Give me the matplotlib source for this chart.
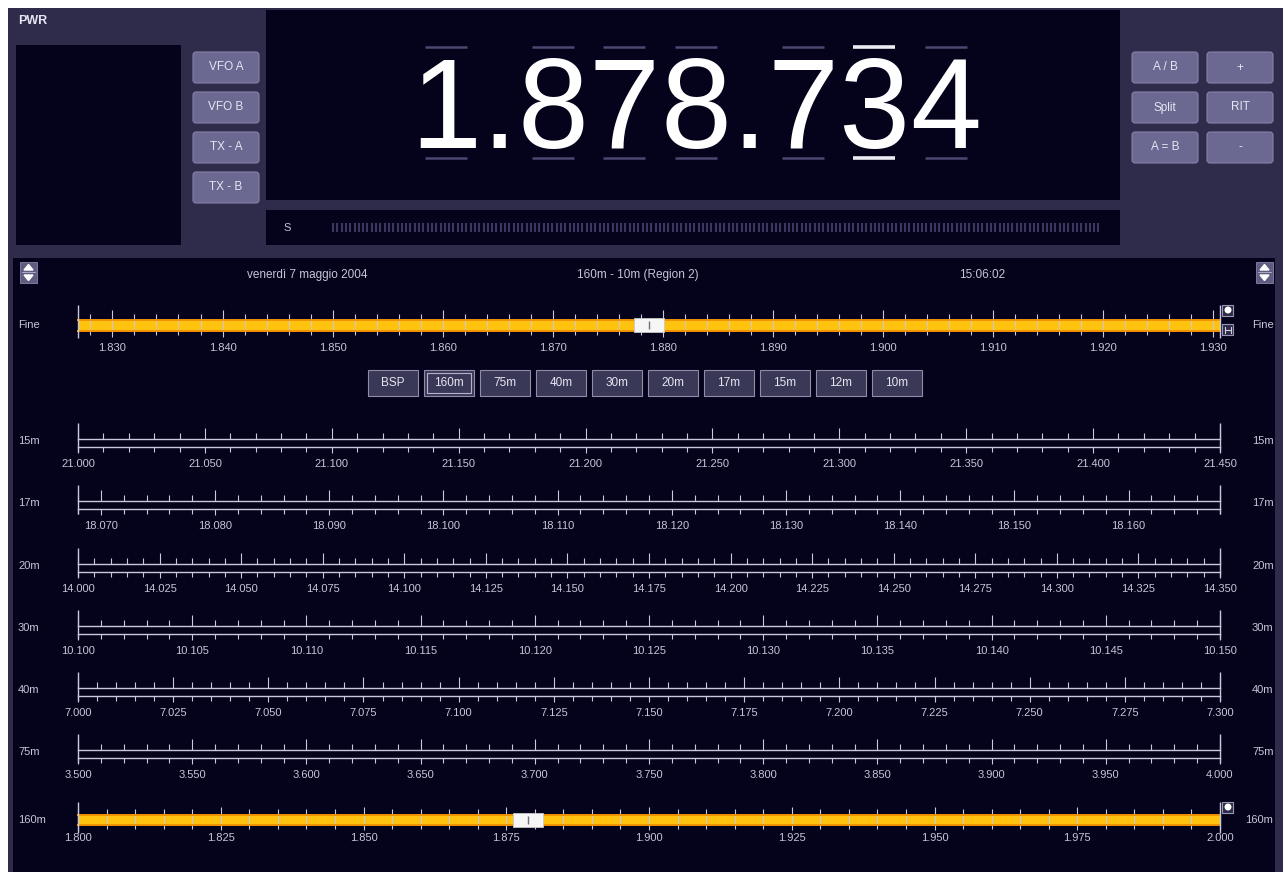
import numpy as np
import matplotlib
matplotlib.use('Agg')
import matplotlib.pyplot as plt
from matplotlib.patches import Rectangle, FancyBboxPatch, Polygon, Circle
from matplotlib.path import Path
from matplotlib.ticker import MultipleLocator, FormatStrFormatter

W, H = 1283, 872

# ---- radio state ----
FREQ_HZ = 1878734
ACTIVE_DIGIT = 5          # digit with the bright tuning cursor
DATE_TEXT = 'venerdì 7 maggio 2004'
RANGE_TEXT = '160m - 10m (Region 2)'
TIME_TEXT = '15:06:02'

VFO_BUTTONS = ['VFO A', 'VFO B', 'TX - A', 'TX - B']
CTRL_BUTTONS = [['A / B', '+'], ['Split', 'RIT'], ['A = B', '-']]
BAND_BUTTONS = ['BSP', '160m', '75m', '40m', '30m', '20m', '17m', '15m', '12m', '10m']
SELECTED_BAND = '160m'

# fine tuning scale (MHz)
FINE_SPAN = 0.10372
FINE_MAJOR = 0.010
FINE_MINOR = 0.002

# band scales (MHz)
BANDS = ['15m', '17m', '20m', '30m', '40m', '75m', '160m']
BAND_LO = [21.000, 18.068, 14.000, 10.100, 7.000, 3.500, 1.800]
BAND_HI = [21.450, 18.168, 14.350, 10.150, 7.300, 4.000, 2.000]
BAND_MAJOR = [0.050, 0.010, 0.025, 0.005, 0.025, 0.050, 0.025]
BAND_MINOR = [0.010, 0.002, 0.005, 0.001, 0.005, 0.010, 0.005]

# colours
FRAME = '#2e2c4a'
DARK = '#05031c'
BTN = '#6b6992'
BTN_EDGE = '#8583a8'
BTN_TXT = '#e6e6f2'
LINE = '#c9c8dc'
LABEL = '#c6c5d8'
YELLOW = '#ffc20e'
BAR_EDGE = '#f29200'
DIM = '#4a4870'

PT = 0.72  # points per pixel at dpi 100
X0, X1 = 78, 1220
UI_FONT = 'Liberation Sans'

fig = plt.figure(figsize=(W / 100, H / 100), dpi=100)
fig.patch.set_facecolor('white')
bg = fig.add_axes([0, 0, 1, 1])
bg.set_xlim(0, W)
bg.set_ylim(H, 0)
bg.axis('off')


def box(x0, y0, x1, y1, color, **kw):
    bg.add_patch(Rectangle((x0, y0), x1 - x0, y1 - y0, facecolor=color,
                           edgecolor=kw.pop('edgecolor', 'none'), **kw))


def button(x0, y0, w, h, label, face=BTN, edge=BTN_EDGE, size=8.5):
    bg.add_patch(FancyBboxPatch((x0, y0), w, h, boxstyle='round,pad=0,rounding_size=3',
                                facecolor=face, edgecolor=edge, lw=0.8))
    bg.text(x0 + w / 2, y0 + h / 2, label, ha='center', va='center',
            color=BTN_TXT, fontsize=size, family=UI_FONT)


def ui_text(x, y, s, ha='left', size=8.5, **kw):
    bg.text(x, y, s, ha=ha, va='center', color=LABEL, fontsize=size, family=UI_FONT, **kw)


# ---- frame and panels ----
box(8, 8, W, H, FRAME)
box(13, 258, 1275, H, DARK)
box(16, 45, 181, 245, DARK)
box(266, 10, 1120, 200, DARK)
box(266, 210, 1120, 245, DARK)
bg.text(18, 21, 'PWR', ha='left', va='center', color='#e6e6f2', fontsize=9,
        fontweight='bold', family=UI_FONT)

for i, lab in enumerate(VFO_BUTTONS):
    button(193, 52 + 40 * i, 66, 31, lab)
for r, row in enumerate(CTRL_BUTTONS):
    for c, lab in enumerate(row):
        button(1132 + 75 * c, 52 + 40 * r, 66, 31, lab)

# ---- frequency readout ----
chars = f'{FREQ_HZ:,}'.replace(',', '.')
digit_w, dot_w = 71.4, 35.7
x = 410
k = 0
for ch in chars:
    w = dot_w if ch == '.' else digit_w
    cx = x + w / 2
    bg.text(cx, 148, ch, ha='center', va='baseline', color='white',
            fontsize=92, family=UI_FONT)
    if ch != '.':
        on = k == ACTIVE_DIGIT
        for yy in (47, 158):
            bg.plot([cx - 21, cx + 21], [yy, yy], color='#ececf4' if on else DIM,
                    lw=2.6 if on else 1.8, solid_capstyle='butt')
        k += 1
    x += w

# S meter
ui_text(283, 228, 'S', size=8)
seg_x = np.arange(333, 1101, 4.3)
bg.vlines(seg_x, 223, 232, color='#3a3860', lw=1.5)

# ---- header row ----
for sx in (20, 1256):
    box(sx, 262, sx + 17, 283, '#5e5c80', edgecolor='#8886a6', lw=0.6)
    bg.add_patch(Polygon([(sx + 8.5, 264.5), (sx + 4, 270), (sx + 13, 270)], color='white'))
    bg.add_patch(Polygon([(sx + 4, 275), (sx + 13, 275), (sx + 8.5, 280.5)], color='white'))
    bg.plot([sx + 2, sx + 15], [272.5, 272.5], color='#b8b6cc', lw=0.6)
ui_text(307, 275, DATE_TEXT, ha='center')
ui_text(638, 275, RANGE_TEXT, ha='center')
ui_text(982, 275, TIME_TEXT, ha='center')

# ---- band buttons ----
for i, lab in enumerate(BAND_BUTTONS):
    bx = 368 + 56 * i
    box(bx, 370, bx + 50, 396, '#3a3857', edgecolor='#8e8ca8', lw=0.8)
    if lab == SELECTED_BAND:
        box(bx + 3, 373, bx + 47, 393, 'none', edgecolor='#b4b2ca', lw=0.8)
    bg.text(bx + 25, 383, lab, ha='center', va='center', color=BTN_TXT,
            fontsize=8.5, family=UI_FONT)

# ---- scales ----
thumb = Path([(-1, -0.47), (1, -0.47), (1, 0.47), (-1, 0.47), (-1, -0.47)],
             [Path.MOVETO, Path.LINETO, Path.LINETO, Path.LINETO, Path.CLOSEPOLY])


def draw_scale(y0, y1, lo, hi, major, minor, top_len, bot_len, end_ext, bar=False, pad=3):
    ax = fig.add_axes([X0 / W, 1 - y1 / H, (X1 - X0) / W, (y1 - y0) / H])
    ax.set_xlim(lo, hi)
    ax.set_ylim(0, 1)
    ax.set_yticks([])
    ax.patch.set_facecolor(YELLOW if bar else 'none')
    ax.spines['left'].set_visible(False)
    ax.spines['right'].set_visible(False)
    for s in ('top', 'bottom'):
        ax.spines[s].set_color(BAR_EDGE if bar else LINE)
        ax.spines[s].set_linewidth(1.4 if bar else 1.0)
    d = 'inout' if bar else 'out'
    ax.xaxis.set_major_locator(MultipleLocator(major))
    ax.xaxis.set_minor_locator(MultipleLocator(minor))
    ax.xaxis.set_major_formatter(FormatStrFormatter('%.3f'))
    ax.tick_params(axis='x', which='both', direction=d, color=LINE, width=0.8,
                   labelsize=8, labelcolor=LABEL, pad=pad, top=False)
    ax.tick_params(axis='x', which='major', length=bot_len[0] * PT)
    ax.tick_params(axis='x', which='minor', length=bot_len[1] * PT)
    for t in ax.get_xticklabels():
        t.set_family(UI_FONT)
    sec = ax.secondary_xaxis('top')
    sec.xaxis.set_major_locator(MultipleLocator(major))
    sec.xaxis.set_minor_locator(MultipleLocator(minor))
    sec.tick_params(axis='x', which='both', direction=d, color=LINE, width=0.8,
                    labeltop=False)
    sec.tick_params(axis='x', which='major', length=top_len[0] * PT)
    sec.tick_params(axis='x', which='minor', length=top_len[1] * PT)
    sec.spines['top'].set_visible(False)
    h = y1 - y0
    ax.vlines([lo, hi], -end_ext[1] / h, 1 + end_ext[0] / h, color=LINE, lw=1.0,
              transform=ax.get_xaxis_transform(), clip_on=False, zorder=4)
    return ax


def end_square(x0, y0, mark):
    box(x0, y0, x0 + 11, y0 + 11, '#2c2a48', edgecolor='#9997b4', lw=0.8)
    if mark == 'dot':
        bg.add_patch(Circle((x0 + 6, y0 + 5), 2.8, color='white'))
    else:
        bg.plot([x0 + 2.5, x0 + 2.5], [y0 + 3, y0 + 9], color='#d0d0e0', lw=0.8)
        bg.plot([x0 + 8.5, x0 + 8.5], [y0 + 3, y0 + 9], color='#d0d0e0', lw=0.8)
        bg.plot([x0 + 2.5, x0 + 8.5], [y0 + 6, y0 + 6], color='#d0d0e0', lw=0.8)


freq = FREQ_HZ / 1e6

# fine scale
ax_f = draw_scale(320, 331, freq - FINE_SPAN / 2, freq + FINE_SPAN / 2, FINE_MAJOR, FINE_MINOR,
                  top_len=(20, 12), bot_len=(12, 8), end_ext=(15, 7), bar=True, pad=4.5)
ax_f.plot([freq], [0.5], marker=thumb, ms=30 * PT, mfc='#f6f6f6', mec='#c8c8c8',
          mew=0.6, zorder=6, clip_on=False)
ax_f.plot([freq], [0.5], marker='|', ms=6, mec='#707070', mew=1, zorder=7, clip_on=False)
ui_text(18, 325, 'Fine', size=8)
ui_text(1252, 325, 'Fine', size=8)
end_square(1222, 305, 'dot')
end_square(1222, 324, 'bar')

# band scales
row_y = [443, 505, 568, 630, 692, 754]
for i, name in enumerate(BANDS):
    if name == '160m':
        ax_b = draw_scale(815, 825, BAND_LO[i], BAND_HI[i], BAND_MAJOR[i], BAND_MINOR[i],
                          top_len=(16, 12), bot_len=(10, 8), end_ext=(13, 8), bar=True, pad=2.5)
        ax_b.plot([freq], [0.5], marker=thumb, ms=30 * PT, mfc='#f6f6f6', mec='#c8c8c8',
                  mew=0.6, zorder=6, clip_on=False)
        ax_b.plot([freq], [0.5], marker='|', ms=6, mec='#707070', mew=1, zorder=7,
                  clip_on=False)
        ui_text(18, 820, name, size=8)
        ui_text(1245, 820, name, size=8)
        end_square(1222, 802, 'dot')
    else:
        cy = row_y[i]
        draw_scale(cy - 4, cy + 4, BAND_LO[i], BAND_HI[i], BAND_MAJOR[i], BAND_MINOR[i],
                   top_len=(11, 6), bot_len=(6, 5), end_ext=(16, 5), pad=4.5)
        ui_text(18, cy - 2, name, size=8)
        ui_text(1252, cy - 2, name, size=8)

fig.savefig('out.png', dpi=100, facecolor=fig.get_facecolor())
